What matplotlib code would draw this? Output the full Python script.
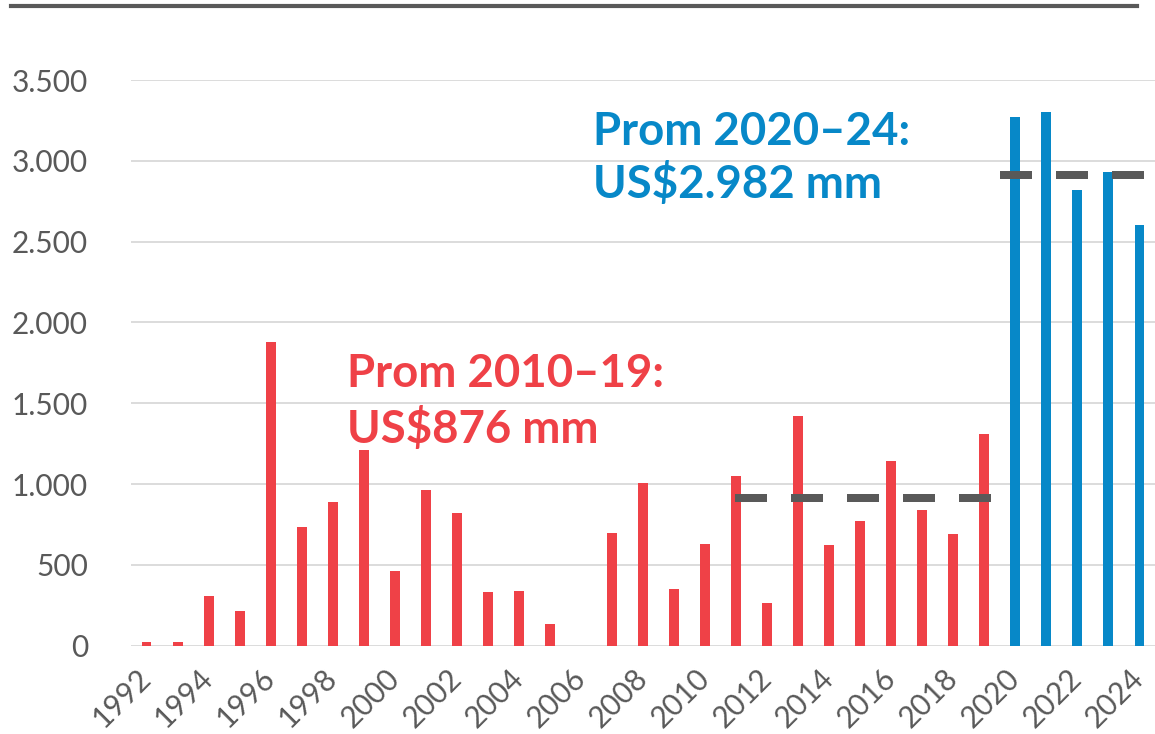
import matplotlib
matplotlib.use("Agg")
import matplotlib.pyplot as plt
from matplotlib.lines import Line2D
import numpy as np

plt.rcParams['font.family'] = ['Lato', 'DejaVu Sans']

years = list(range(1992, 2025))
values = [23, 23, 310, 213, 1876, 736, 891, 1210, 463, 963, 822, 331, 339, 136, 0,
          695, 1005, 353, 627, 1052, 264, 1424, 625, 772, 1141, 840, 689, 1310,
          3268, 3305, 2822, 2933, 2605]
avg_red = 914
avg_blue = 2913
red_span = (2011, 2019)
blue_span = (2020, 2024)
label_red = ["Prom 2010\u201319:", "US$876 mm"]
label_blue = ["Prom 2020\u201324:", "US$2.982 mm"]
yticks = [0, 500, 1000, 1500, 2000, 2500, 3000, 3500]
ytick_labels = ["0", "500", "1.000", "1.500", "2.000", "2.500", "3.000", "3.500"]

RED = "#EF4147"
BLUE = "#0788C8"
GRAY = "#595959"
GRID = "#D9D9D9"

W, H = 1155, 734
fig = plt.figure(figsize=(W / 100, H / 100), dpi=100)
ax = fig.add_axes([131 / W, 1 - 645.7 / H, 1 - 131 / W, (645.7 - 80) / H])

colors = [BLUE if y >= 2020 else RED for y in years]
ax.bar(years, values, width=0.32, color=colors, zorder=3)

ax.set_xlim(years[0] - 0.5, years[-1] + 0.5)
ax.set_ylim(0, 3500)
ax.set_yticks(yticks)
ax.set_yticklabels(ytick_labels)
ax.set_xticks(years[::2])
ax.set_xticklabels([str(y) for y in years[::2]], rotation=45, ha='right',
                   rotation_mode='anchor', va='center')

for s in ax.spines.values():
    s.set_visible(False)
ax.grid(axis='y', color=GRID, linewidth=1.3, zorder=0)
ax.tick_params(axis='both', length=0, colors=GRAY)
ax.tick_params(axis='y', pad=31, labelsize=21.5)
ax.tick_params(axis='x', pad=20, labelsize=21.5)

# average dashed lines
lw = 5.76
ax.plot([red_span[0] - 0.05, red_span[1] + 0.2], [avg_red, avg_red], color=GRAY,
        lw=lw, linestyle=(0, (4, 3)), solid_capstyle='butt', dash_capstyle='butt', zorder=4)
ax.plot([blue_span[0] - 0.5, blue_span[1] + 0.15], [avg_blue, avg_blue], color=GRAY,
        lw=lw, linestyle=(0, (4, 3)), solid_capstyle='butt', dash_capstyle='butt', zorder=4)

# annotations
fs = 32.8
fig.text(347 / W, 1 - 387 / H, label_red[0], color=RED, fontsize=fs, fontweight='bold',
         ha='left', va='baseline')
fig.text(347 / W, 1 - 443 / H, label_red[1], color=RED, fontsize=fs, fontweight='bold',
         ha='left', va='baseline')
fig.text(593 / W, 1 - 145 / H, label_blue[0], color=BLUE, fontsize=fs, fontweight='bold',
         ha='left', va='baseline')
fig.text(593 / W, 1 - 198.5 / H, label_blue[1], color=BLUE, fontsize=fs, fontweight='bold',
         ha='left', va='baseline')

# top rule
fig.add_artist(Line2D([11 / W, 1137 / W], [1 - 6 / H, 1 - 6 / H], color=GRAY, lw=3,
                      transform=fig.transFigure))

fig.savefig("out.png", dpi=100)
